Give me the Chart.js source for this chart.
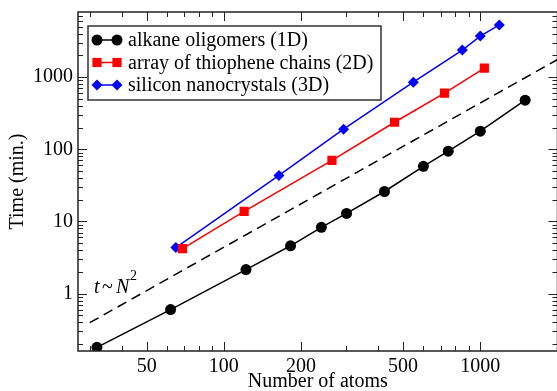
<!DOCTYPE html>
<html>
<head>
<meta charset="utf-8">
<script src="https://cdn.jsdelivr.net/npm/chart.js@4/dist/chart.umd.min.js"></script>
<style>
html, body { margin: 0; padding: 0; background: #fff; overflow: hidden; }
#wrap { width: 564px; height: 391px; }
</style>
</head>
<body>
<div id="wrap"><canvas id="c" width="564" height="391"></canvas></div>
<script>
// Values (log-log)
let alkaneAtoms = [32, 62, 122, 182, 240, 301, 423, 600, 750, 1000, 1496];
let alkaneTime = [0.18, 0.60, 2.15, 4.6, 8.3, 12.9, 26, 58, 94, 178, 480];
let thiopheneAtoms = [69, 120, 264, 463, 725, 1037];
let thiopheneTime = [4.2, 13.8, 70, 237, 600, 1334];
let siliconAtoms = [65, 164, 293, 548, 851, 1000, 1186];
let siliconTime = [4.35, 43.4, 190, 852, 2371, 3711, 5290];
let guideAtoms = [30, 2000];
let guideTime = [0.395, 1756];

let xMajorTicks = [50, 100, 200, 500, 1000];
let xMinorTicks = [30, 40, 60, 70, 80, 90, 300, 400, 600, 700, 800, 900];
let yMajorTicks = [1, 10, 100, 1000];
let yMinorTicks = [0.2, 0.3, 0.4, 0.5, 0.6, 0.7, 0.8, 0.9,
  2, 3, 4, 5, 6, 7, 8, 9, 20, 30, 40, 50, 60, 70, 80, 90,
  200, 300, 400, 500, 600, 700, 800, 900, 2000, 3000, 4000, 5000, 6000, 7000];

let FONT = "'Liberation Serif', 'DejaVu Serif', serif";

function pairs(xs, ys){
  return xs.map((x, i) => ({ x: x, y: ys[i] }));
}

// no extra label padding around the plot area
function noPad(s){
  s.paddingLeft = 0; s.paddingRight = 0; s.paddingTop = 0; s.paddingBottom = 0;
}

// Draw a marker like the ones on the plot
function marker(ctx, style, x, y, r){
  ctx.beginPath();
  if(style === 'circle'){
    ctx.arc(x, y, r, 0, Math.PI * 2);
  } else if(style === 'rect'){
    let s = r * Math.SQRT1_2;
    ctx.rect(x - s, y - s, 2 * s, 2 * s);
  } else {
    ctx.moveTo(x - r, y); ctx.lineTo(x, y - r); ctx.lineTo(x + r, y); ctx.lineTo(x, y + r);
    ctx.closePath();
  }
  ctx.fill();
}

// Frame with inward ticks on all four sides
let framePlugin = {
  id: 'frame',
  afterDraw(chart){
    let ctx = chart.ctx, a = chart.chartArea;
    let xs = chart.scales.x, ys = chart.scales.y;
    ctx.save();
    ctx.strokeStyle = '#222';
    ctx.lineWidth = 1.5;
    ctx.strokeRect(a.left, a.top, a.right - a.left, a.bottom - a.top);
    ctx.lineWidth = 1;
    ctx.beginPath();
    function xt(v, len){
      let p = Math.round(xs.getPixelForValue(v)) + 0.5;
      ctx.moveTo(p, a.bottom); ctx.lineTo(p, a.bottom - len);
      ctx.moveTo(p, a.top); ctx.lineTo(p, a.top + len);
    }
    function yt(v, len){
      let p = Math.round(ys.getPixelForValue(v)) + 0.5;
      ctx.moveTo(a.left, p); ctx.lineTo(a.left + len, p);
      ctx.moveTo(a.right, p); ctx.lineTo(a.right - len, p);
    }
    xMajorTicks.forEach(v => xt(v, 9));
    xMinorTicks.forEach(v => xt(v, 5));
    yMajorTicks.forEach(v => yt(v, 9));
    yMinorTicks.forEach(v => yt(v, 5));
    ctx.stroke();

    // t ~ N^2 note next to the dashed guide
    let nx = xs.getPixelForValue(31.2), ny = ys.getPixelForValue(1.03);
    ctx.fillStyle = '#000';
    ctx.textBaseline = 'alphabetic';
    ctx.textAlign = 'left';
    ctx.font = "italic 20px " + FONT;
    ctx.fillText('t', nx, ny);
    ctx.font = "20px " + FONT;
    ctx.fillText('~', nx + 8, ny);
    ctx.font = "italic 20px " + FONT;
    ctx.fillText('N', nx + 22, ny);
    ctx.font = "14px " + FONT;
    ctx.fillText('2', nx + 36, ny - 13);
    ctx.restore();
  }
};

// Boxed legend in the upper left corner of the plot
let legendPlugin = {
  id: 'boxLegend',
  afterDraw(chart){
    let ctx = chart.ctx, a = chart.chartArea;
    let left = a.left + 10, top = a.top + 14;
    ctx.save();
    ctx.fillStyle = '#fff';
    ctx.fillRect(left, top, 293, 74);
    ctx.strokeStyle = '#333';
    ctx.lineWidth = 1.5;
    ctx.strokeRect(left, top, 293, 74);
    ctx.font = "20px " + FONT;
    ctx.textBaseline = 'middle';
    ctx.textAlign = 'left';
    chart.data.datasets.slice(0, 3).forEach((ds, i) => {
      let y = top + 14 + i * 22.5;
      ctx.strokeStyle = ds.borderColor;
      ctx.lineWidth = 1.5;
      ctx.beginPath();
      ctx.moveTo(left + 9, y); ctx.lineTo(left + 29, y);
      ctx.stroke();
      ctx.fillStyle = ds.borderColor;
      marker(ctx, ds.pointStyle, left + 9, y, ds.pointRadius);
      marker(ctx, ds.pointStyle, left + 29, y, ds.pointRadius);
      ctx.fillStyle = '#000';
      ctx.fillText(ds.label, left + 40, y + 1);
    });
    ctx.restore();
  }
};

new Chart(document.getElementById('c').getContext('2d'), {
  type: 'scatter',
  data: {
    datasets: [
      { label: 'alkane oligomers (1D)', data: pairs(alkaneAtoms, alkaneTime), showLine: true,
        borderColor: '#000', backgroundColor: '#000', borderWidth: 1.5,
        pointStyle: 'circle', pointRadius: 5.5, pointBorderWidth: 0 },
      { label: 'array of thiophene chains (2D)', data: pairs(thiopheneAtoms, thiopheneTime), showLine: true,
        borderColor: '#ff0000', backgroundColor: '#ff0000', borderWidth: 1.5,
        pointStyle: 'rect', pointRadius: 6.5, pointBorderWidth: 0 },
      { label: 'silicon nanocrystals (3D)', data: pairs(siliconAtoms, siliconTime), showLine: true,
        borderColor: '#0000ff', backgroundColor: '#0000ff', borderWidth: 1.5,
        pointStyle: 'rectRot', pointRadius: 5.5, pointBorderWidth: 0 },
      { label: 't ~ N^2', data: pairs(guideAtoms, guideTime), showLine: true,
        borderColor: '#000', borderWidth: 1.5, borderDash: [10, 6], pointRadius: 0 }
    ]
  },
  options: {
    responsive: false,
    animation: false,
    layout: { padding: { top: 12, right: 1, left: 0, bottom: 0 } },
    plugins: { legend: { display: false }, tooltip: { enabled: false } },
    scales: {
      x: {
        type: 'logarithmic', min: 27, max: 2000,
        grid: { display: false, drawTicks: false }, border: { display: false },
        afterBuildTicks: s => { s.ticks = xMajorTicks.map(v => ({ value: v })); },
        afterFit: s => { s.height = 40; noPad(s); },
        ticks: { color: '#000', font: { family: FONT, size: 20 }, padding: 4, maxRotation: 0, autoSkip: false,
          callback: v => String(v) },
        title: { display: true, text: 'Number of atoms', color: '#000', font: { family: FONT, size: 20 },
          padding: { top: 0, bottom: -3 } }
      },
      y: {
        type: 'logarithmic', min: 0.16, max: 8000,
        grid: { display: false, drawTicks: false }, border: { display: false },
        afterBuildTicks: s => { s.ticks = yMajorTicks.map(v => ({ value: v })); },
        afterFit: s => { s.width = 78; noPad(s); },
        ticks: { color: '#000', font: { family: FONT, size: 20 }, padding: 5, autoSkip: false,
          callback: v => String(v) },
        title: { display: true, text: 'Time (min.)', color: '#000', font: { family: FONT, size: 20 },
          padding: { top: 6, bottom: 0 } }
      }
    }
  },
  plugins: [framePlugin, legendPlugin]
});
</script>
</body>
</html>
